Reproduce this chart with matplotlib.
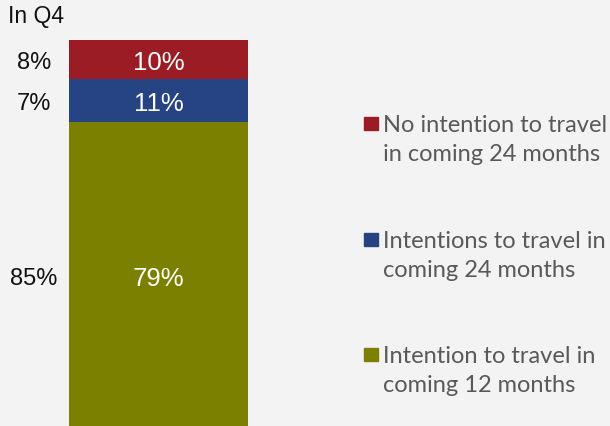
import matplotlib
matplotlib.use("Agg")
import matplotlib.pyplot as plt
from matplotlib.patches import Rectangle

# Data (stacked bottom -> top)
categories = ["Intention to travel in\ncoming 12 months",
              "Intentions to travel in\ncoming 24 months",
              "No intention to travel\nin coming 24 months"]
q4_values = [79, 11, 10]
prev_values = [85, 7, 8]
colors = ["#7B8000", "#264383", "#9B1C24"]

W, H = 610, 427
fig = plt.figure(figsize=(W / 100, H / 100), dpi=100)
fig.patch.set_facecolor("#F3F3F3")

# axes covering full figure; y in percent units, x in pixels
ax = fig.add_axes([0, 0, 1, 1])
ax.set_facecolor("#F3F3F3")
px_per_pct = 3.9
base_px = 431
ax.set_xlim(0, W)
ax.set_ylim((base_px - H) / px_per_pct, base_px / px_per_pct)
ax.axis("off")

bar_x, bar_w = 158.5, 179
bottom = 0
for val, prev, col in zip(q4_values, prev_values, colors):
    ax.bar(bar_x, val, width=bar_w, bottom=bottom, color=col, edgecolor="none")
    mid = bottom + val / 2
    ax.text(bar_x, mid, f"{val}%", ha="center", va="center_baseline",
            color="white", fontsize=18.5, family="Liberation Sans")
    ax.text(34, mid, f"{prev}%", ha="center", va="center_baseline",
            color="#111111", fontsize=17, family="Liberation Sans")
    bottom += val

fig.text(8 / W, 1 - 16 / H, "In Q4", ha="left", va="center", color="#111111",
         fontsize=16.5, family="Liberation Sans")

# legend (top -> bottom)
legend_y = [132, 248, 363]
line_gap = 28.7
for cat, col, y in zip(categories[::-1], colors[::-1], legend_y):
    fig.patches.append(Rectangle((364 / W, 1 - (y - 1) / H), 14 / W, 13.5 / H,
                                 transform=fig.transFigure, color=col,
                                 figure=fig))
    for i, line in enumerate(cat.split("\n")):
        fig.text(383 / W, 1 - (y + i * line_gap) / H, line, ha="left",
                 va="baseline", color="#595959", fontsize=17, family="Lato")

fig.savefig("out.png", dpi=100, facecolor=fig.get_facecolor())
